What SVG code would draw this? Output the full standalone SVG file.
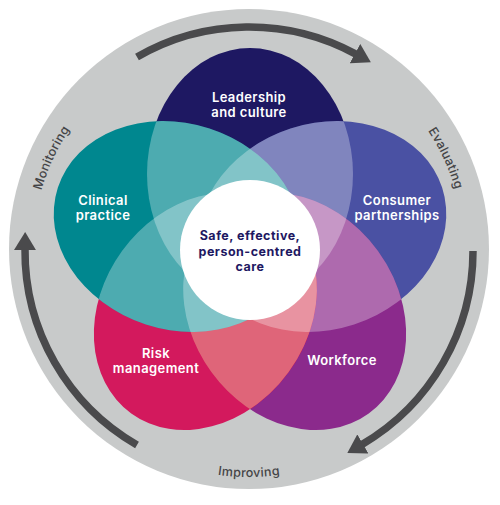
<svg xmlns="http://www.w3.org/2000/svg" xmlns:xlink="http://www.w3.org/1999/xlink" width="500" height="505" viewBox="0 0 500 505">
<style>
.lbl{font-family:Inter,"Noto Sans","Liberation Sans",sans-serif;font-size:13px;font-weight:600;fill:#ffffff;text-anchor:middle;letter-spacing:0.4px}
.ctr{font-family:Inter,"Noto Sans","Liberation Sans",sans-serif;font-size:12.5px;font-weight:700;fill:#1e1862;text-anchor:middle;letter-spacing:0.5px}
.ring{font-family:Inter,"Noto Sans","Liberation Sans",sans-serif;font-size:12.5px;font-weight:500;fill:#444446;letter-spacing:0.3px}
.arr{fill:none;stroke:#4a4a4c;stroke-width:7.5}
.ov{fill:#ffffff;fill-opacity:0.3}
</style>
<defs>
<ellipse id="eL" cx="250" cy="174" rx="103" ry="126"/>
<ellipse id="eC" cx="250" cy="174" rx="103" ry="126" transform="rotate(72 250 250)"/>
<ellipse id="eW" cx="250" cy="174" rx="103" ry="126" transform="rotate(144 250 250)"/>
<ellipse id="eR" cx="250" cy="174" rx="103" ry="126" transform="rotate(216 250 250)"/>
<ellipse id="eK" cx="250" cy="174" rx="103" ry="126" transform="rotate(288 250 250)"/>
<clipPath id="afterL"><use xlink:href="#eC"/><use xlink:href="#eW"/><use xlink:href="#eR"/><use xlink:href="#eK"/></clipPath>
<clipPath id="afterC"><use xlink:href="#eW"/><use xlink:href="#eR"/><use xlink:href="#eK"/></clipPath>
<clipPath id="afterW"><use xlink:href="#eR"/><use xlink:href="#eK"/></clipPath>
<clipPath id="afterR"><use xlink:href="#eK"/></clipPath>
<clipPath id="inW"><use xlink:href="#eW"/></clipPath>
<marker id="ah" markerUnits="userSpaceOnUse" viewBox="0 0 18 22" markerWidth="18" markerHeight="22" refX="1" refY="11" orient="auto">
<path d="M0,0 L18,11 L0,22 Z" fill="#4a4a4c"/>
</marker>
<path id="tpMon" d="M72.1,373.9 A216,216 0 0,1 230.2,34.8"/>
<path id="tpEval" d="M267.7,35.8 A215,215 0 0,1 425.1,373.3"/>
<path id="tpImp" d="M52.4,363.5 A227,227 0 0,0 445.6,363.5"/>
</defs>

<g id="cycle-ring">
<circle cx="249" cy="249" r="240" fill="#c8caca"/>
</g>

<g id="connectors">
<path class="arr" d="M137,57 A224,224 0 0,1 355.9,54.1" marker-end="url(#ah)"/>
<path class="arr" d="M473,251 A224,224 0 0,1 362,444.4" marker-end="url(#ah)"/>
<path class="arr" d="M137,445 A224,224 0 0,1 25,249" marker-end="url(#ah)"/>
</g>

<g id="ring-labels">
<text class="ring"><textPath xlink:href="#tpMon" startOffset="50%" text-anchor="middle">Monitoring</textPath></text>
<text class="ring"><textPath xlink:href="#tpEval" startOffset="50%" text-anchor="middle">Evaluating</textPath></text>
<text class="ring"><textPath xlink:href="#tpImp" startOffset="50%" text-anchor="middle">Improving</textPath></text>
</g>

<g id="leadership-and-culture">
<use xlink:href="#eL" fill="#1e1862"/>
<text class="lbl" x="249" y="102">Leadership</text>
<text class="lbl" x="249" y="117">and culture</text>
</g>
<g id="consumer-partnerships">
<use xlink:href="#eC" fill="#4a51a3"/>
<text class="lbl" x="397" y="205">Consumer</text>
<text class="lbl" x="397" y="220">partnerships</text>
</g>
<g id="workforce">
<use xlink:href="#eW" fill="#8b2a8c"/>
<text class="lbl" x="342" y="365">Workforce</text>
</g>
<g id="risk-management">
<use xlink:href="#eR" fill="#d3195d"/>
<use xlink:href="#eR" fill="#d2233f" clip-path="url(#inW)"/>
<text class="lbl" x="156" y="358">Risk</text>
<text class="lbl" x="156" y="373">management</text>
</g>
<g id="clinical-practice">
<use xlink:href="#eK" fill="#00878f"/>
<text class="lbl" x="103" y="205">Clinical</text>
<text class="lbl" x="103" y="220">practice</text>
</g>

<g id="overlaps">
<use xlink:href="#eL" class="ov" clip-path="url(#afterL)"/>
<use xlink:href="#eC" class="ov" clip-path="url(#afterC)"/>
<use xlink:href="#eW" class="ov" clip-path="url(#afterW)"/>
<use xlink:href="#eR" class="ov" clip-path="url(#afterR)"/>
</g>

<g id="safe-effective-person-centred-care">
<circle cx="250" cy="250" r="70" fill="#ffffff"/>
<text class="ctr" x="250" y="240">Safe, effective,</text>
<text class="ctr" x="250" y="255.5">person-centred</text>
<text class="ctr" x="250" y="271">care</text>
</g>
</svg>
